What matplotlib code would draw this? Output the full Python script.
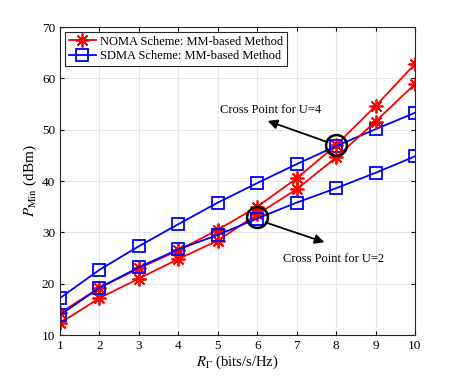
import matplotlib.pyplot as plt

plt.rcParams['font.family'] = ['Liberation Serif', 'DejaVu Serif']
plt.rcParams['mathtext.fontset'] = 'stix'

rate = [1, 2, 3, 4, 5, 6, 7, 8, 9, 10]
noma_u4 = [14.3, 19.2, 23.0, 26.5, 30.5, 35.0, 40.5, 47.0, 54.6, 62.8]
noma_u2 = [12.3, 17.2, 21.0, 24.8, 28.4, 33.5, 38.4, 44.6, 51.6, 58.9]
sdma_u4 = [17.2, 22.7, 27.3, 31.6, 35.8, 39.6, 43.3, 46.8, 50.1, 53.3]
sdma_u2 = [13.9, 19.2, 23.2, 26.7, 29.5, 32.7, 35.8, 38.6, 41.6, 44.8]

fig = plt.figure(figsize=(4.58, 3.76), dpi=100)
ax = fig.add_axes([0.131, 0.109, 0.775, 0.819])

star = (8, 2, 0)  # matlab-like asterisk
ax.plot(rate, noma_u4, 'r-', marker=star, lw=1.3, ms=10, mew=1.3, label='NOMA Scheme: MM-based Method')
ax.plot(rate, sdma_u4, 'b-s', lw=1.3, ms=8.5, mfc='none', mew=1.3, label='SDMA Scheme: MM-based Method')
ax.plot(rate, noma_u2, 'r-', marker=star, lw=1.3, ms=10, mew=1.3)
ax.plot(rate, sdma_u2, 'b-s', lw=1.3, ms=8.5, mfc='none', mew=1.3)

# cross point circles
ax.plot([6, 8], [33.0, 47.0], 'o', ms=15, mfc='none', mec='k', mew=1.8)

ax.annotate('', xy=(6.2, 51.9), xytext=(7.85, 47.4),
            arrowprops=dict(arrowstyle='-|>', color='k', lw=1.3, mutation_scale=14))
ax.text(6.33, 53.9, 'Cross Point for U=4', ha='center', va='center', fontsize=9)
ax.annotate('', xy=(7.77, 27.9), xytext=(6.15, 32.1),
            arrowprops=dict(arrowstyle='-|>', color='k', lw=1.3, mutation_scale=14))
ax.text(7.93, 24.8, 'Cross Point for U=2', ha='center', va='center', fontsize=9)

ax.set_xlim(1, 10)
ax.set_ylim(10, 70)
ax.set_xticks(rate)
ax.set_yticks(range(10, 71, 10))
ax.tick_params(direction='in', top=True, right=True, labelsize=9.5, length=3)
ax.grid(True, color='#e6e6e6', lw=0.8)
ax.set_axisbelow(True)
for s in ax.spines.values():
    s.set_color('#262626')
    s.set_linewidth(0.8)

ax.set_xlabel(r'$R_\Gamma$ (bits/s/Hz)', fontsize=10.5, labelpad=1)
ax.set_ylabel(r'$P_{\rm Min}$ (dBm)', fontsize=11, labelpad=2)

leg = ax.legend(loc='upper left', fontsize=9, fancybox=False, edgecolor='#262626',
                framealpha=1, borderpad=0.3, labelspacing=0.2, handlelength=2.2,
                handletextpad=0.3, borderaxespad=0.4)
leg.get_frame().set_linewidth(0.8)

fig.savefig('out.png', dpi=100)
